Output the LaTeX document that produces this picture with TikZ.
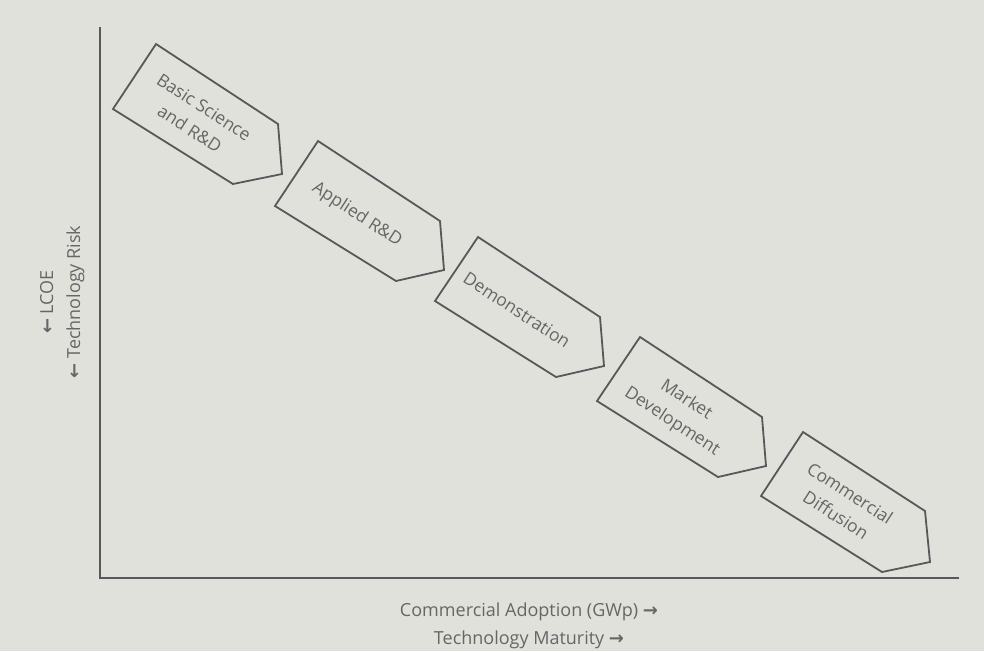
\documentclass[tikz,border=0pt]{standalone}
\usepackage{fontspec}
\setmainfont{Open Sans}
\newfontfamily\arrowfont{DejaVu Sans}
\definecolor{bggray}{HTML}{E1E1DC}
\definecolor{linegray}{HTML}{585858}
\definecolor{txtgray}{HTML}{666666}
\newcommand{\rarr}{{\arrowfont\bfseries\char"2192}}
\newcommand{\larr}{{\arrowfont\bfseries\char"2190}}
\begin{document}
\begin{tikzpicture}[x=1pt,y=-1pt,
  axisline/.style={draw=linegray, line width=2.2pt},
  stagebox/.style={draw=linegray, line width=1.8pt, line join=miter},
  stagetext/.style={rotate=-33, align=center, text=txtgray, inner sep=0pt,
    font=\fontsize{17.5}{26}\selectfont},
  axislabel/.style={text=txtgray, inner sep=0pt, anchor=base,
    font=\fontsize{18}{26}\selectfont}]
  % canvas
  \fill[bggray] (0,0) rectangle (984,651);
  \useasboundingbox (0,0) rectangle (984,651);

  % axes
  \coordinate (ytop) at (100,27);
  \coordinate (origin) at (100,578);
  \coordinate (xend) at (959,578);
  \draw[axisline] (ytop) -- (origin) -- (xend);

  % stages along the curve
  \draw[stagebox] (156,44) -- (278,124) -- (282,174) -- (233,184) -- (113,109) -- cycle;
  \draw[stagebox] (318,141) -- (440,221) -- (444,270) -- (396,281) -- (275,206) -- cycle;
  \draw[stagebox] (478,237) -- (600,317) -- (604,366) -- (556,377) -- (435,301) -- cycle;
  \draw[stagebox] (640,337) -- (762,417) -- (766,466) -- (718,477) -- (597,401) -- cycle;
  \draw[stagebox] (803,432) -- (925,511) -- (930,562) -- (882,572) -- (761,496) -- cycle;

  \node[stagetext] (basic) at (197,118) {Basic Science\\and R\&D};
  \node[stagetext] (applied) at (357,215) {Applied R\&D};
  \node[stagetext] (demo) at (517,310) {Demonstration};
  \node[stagetext] (market) at (679,411) {Market\\Development};
  \node[stagetext] (diffusion) at (843,504) {Commercial\\Diffusion};

  % axis titles
  \node[axislabel, rotate=90] (lcoe) at (53,302) {\larr\ LCOE};
  \node[axislabel, rotate=90] (risk) at (80,302) {\larr\ Technology Risk};
  \node[axislabel] (adoption) at (529,616) {Commercial Adoption (GWp) \rarr};
  \node[axislabel] (maturity) at (529,644) {Technology Maturity \rarr};
\end{tikzpicture}
\end{document}
